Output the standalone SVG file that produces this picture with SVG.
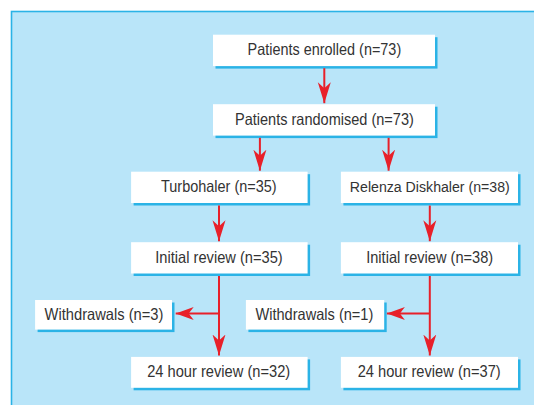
<svg xmlns="http://www.w3.org/2000/svg" width="534" height="405" viewBox="0 0 534 405">
<defs>
<style>
.sh{fill:#2bb3e6}
.bx{fill:#ffffff}
.t{font-family:"Liberation Sans",Arial,sans-serif;font-size:16.5px;fill:#333333;text-anchor:middle}
.c{stroke:#e8202a;stroke-width:2;fill:none}
</style>
<marker id="av" markerUnits="userSpaceOnUse" viewBox="-21 -7 22 14" refX="0" refY="0" markerWidth="22" markerHeight="14" orient="auto">
<path d="M0,0 L-21,-6.5 L-15,0 L-21,6.5 Z" fill="#e8202a"/>
</marker>
<marker id="ah" markerUnits="userSpaceOnUse" viewBox="-18 -7 19 14" refX="0" refY="0" markerWidth="19" markerHeight="14" orient="auto">
<path d="M0,0 L-18,-6.5 L-13,0 L-18,6.5 Z" fill="#e8202a"/>
</marker>
</defs>
<rect x="0" y="0" width="534" height="405" fill="#ffffff"/>
<rect x="11.5" y="11.5" width="530" height="400" fill="#b9e5f9" stroke="#2bb3e6" stroke-width="1.6"/>

<g id="n1"><rect class="sh" x="215.5" y="37.2" width="222" height="31.4"/><rect class="bx" x="213" y="34.7" width="222" height="31.4"/><text class="t" x="324.4" y="55.4" textLength="153.6" lengthAdjust="spacingAndGlyphs">Patients enrolled (n=73)</text></g>
<g id="n2"><rect class="sh" x="215.5" y="106.7" width="222" height="31.4"/><rect class="bx" x="213" y="104.2" width="222" height="31.4"/><text class="t" x="324.4" y="124.9" textLength="178.8" lengthAdjust="spacingAndGlyphs">Patients randomised (n=73)</text></g>
<g id="n3"><rect class="sh" x="133.6" y="174.2" width="176.5" height="31.3"/><rect class="bx" x="131.1" y="171.7" width="176.5" height="31.3"/><text class="t" x="218.8" y="192.4" textLength="115.5" lengthAdjust="spacingAndGlyphs">Turbohaler (n=35)</text></g>
<g id="n4"><rect class="sh" x="343.4" y="174.2" width="177.1" height="31.3"/><rect class="bx" x="340.9" y="171.7" width="177.1" height="31.3"/><text class="t" x="429.8" y="192.4" style="font-size:15.5px" textLength="160" lengthAdjust="spacingAndGlyphs">Relenza Diskhaler (n=38)</text></g>
<g id="n5"><rect class="sh" x="133.6" y="244.7" width="176.5" height="31.3"/><rect class="bx" x="131.1" y="242.2" width="176.5" height="31.3"/><text class="t" x="219" y="262.9" textLength="127.4" lengthAdjust="spacingAndGlyphs">Initial review (n=35)</text></g>
<g id="n6"><rect class="sh" x="343.4" y="244.7" width="177.1" height="31.3"/><rect class="bx" x="340.9" y="242.2" width="177.1" height="31.3"/><text class="t" x="429.7" y="262.9" textLength="127" lengthAdjust="spacingAndGlyphs">Initial review (n=38)</text></g>
<g id="n7"><rect class="sh" x="37.6" y="302.5" width="136.9" height="29.6"/><rect class="bx" x="35.1" y="300" width="136.9" height="29.6"/><text class="t" x="104" y="320" textLength="118.9" lengthAdjust="spacingAndGlyphs">Withdrawals (n=3)</text></g>
<g id="n8"><rect class="sh" x="248.4" y="302.5" width="138.3" height="29.6"/><rect class="bx" x="245.9" y="300" width="138.3" height="29.6"/><text class="t" x="314.4" y="320" textLength="117.9" lengthAdjust="spacingAndGlyphs">Withdrawals (n=1)</text></g>
<g id="n9"><rect class="sh" x="133.6" y="359.4" width="176.5" height="30.9"/><rect class="bx" x="131.1" y="356.9" width="176.5" height="30.9"/><text class="t" x="218.7" y="377.4" textLength="143" lengthAdjust="spacingAndGlyphs">24 hour review (n=32)</text></g>
<g id="n10"><rect class="sh" x="343.4" y="359.4" width="177.1" height="30.9"/><rect class="bx" x="340.9" y="356.9" width="177.1" height="30.9"/><text class="t" x="429.2" y="377.4" textLength="143" lengthAdjust="spacingAndGlyphs">24 hour review (n=37)</text></g>

<g id="connectors">
<line class="c" x1="324.3" y1="68.2" x2="324.3" y2="103.2" marker-end="url(#av)"/>
<line class="c" x1="259.9" y1="137.8" x2="259.9" y2="170.7" marker-end="url(#av)"/>
<line class="c" x1="388.6" y1="137.8" x2="388.6" y2="170.7" marker-end="url(#av)"/>
<line class="c" x1="219" y1="205.6" x2="219" y2="241.2" marker-end="url(#av)"/>
<line class="c" x1="429.8" y1="205.6" x2="429.8" y2="241.2" marker-end="url(#av)"/>
<line class="c" x1="219" y1="276" x2="219" y2="355.5" marker-end="url(#av)"/>
<line class="c" x1="429.8" y1="276" x2="429.8" y2="355.5" marker-end="url(#av)"/>
<line class="c" x1="219" y1="313.6" x2="175.7" y2="313.6" marker-end="url(#ah)"/>
<line class="c" x1="429.8" y1="313.6" x2="386.9" y2="313.6" marker-end="url(#ah)"/>
</g>
</svg>
